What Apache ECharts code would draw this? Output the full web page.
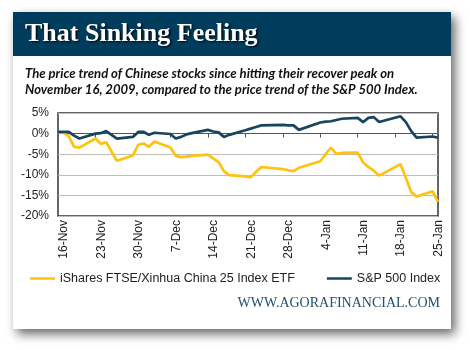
<!DOCTYPE html>
<html>
<head>
<meta charset="utf-8">
<title>That Sinking Feeling</title>
<script src="https://cdn.jsdelivr.net/npm/echarts@6/dist/echarts.min.js"></script>
<style>
  html, body { margin: 0; padding: 0; background: #fff; }
  #chart { width: 470px; height: 350px; }
</style>
</head>
<body>
<div id="chart"></div>
<script>
// trading days, % change since 16-Nov-2009
const dates = [
  '2009-11-16', '2009-11-17', '2009-11-18', '2009-11-19', '2009-11-20',
  '2009-11-23', '2009-11-24', '2009-11-25', '2009-11-27',
  '2009-11-30', '2009-12-01', '2009-12-02', '2009-12-03', '2009-12-04',
  '2009-12-07', '2009-12-08', '2009-12-09', '2009-12-10', '2009-12-11',
  '2009-12-14', '2009-12-15', '2009-12-16', '2009-12-17', '2009-12-18',
  '2009-12-21', '2009-12-22', '2009-12-23', '2009-12-24',
  '2009-12-28', '2009-12-29', '2009-12-30', '2009-12-31',
  '2010-01-04', '2010-01-05', '2010-01-06', '2010-01-07', '2010-01-08',
  '2010-01-11', '2010-01-12', '2010-01-13', '2010-01-14', '2010-01-15',
  '2010-01-19', '2010-01-20', '2010-01-21', '2010-01-22',
  '2010-01-25', '2010-01-26'
]
const chinaEtf = [
  0.3, 0.2, -0.6, -3.2, -3.4,
  -1.2, -2.5, -2.1, -6.6,
  -5.3, -2.7, -2.4, -3.2, -1.9,
  -3.4, -5.4, -5.7, -5.6, -5.4,
  -5.1, -6.0, -6.9, -9.1, -10.1,
  -10.4, -10.6, -9.3, -8.1,
  -8.6, -8.9, -9.1, -8.3,
  -6.7, -5.0, -3.4, -4.9, -4.7,
  -4.6, -7.0, -8.1, -9.0, -10.2,
  -7.4, -10.8, -14.2, -15.3,
  -14.0, -16.6
]
const sp500 = [
  0.4, 0.4, 0.4, -0.5, -1.2,
  0.0, 0.1, 0.6, -1.2,
  -0.8, 0.4, 0.4, -0.3, 0.2,
  -0.1, -1.2, -0.8, -0.2, 0.1,
  0.9, 0.5, 0.3, -0.8, -0.3,
  0.8, 1.2, 1.6, 2.0,
  2.1, 2.0, 2.0, 0.9,
  2.7, 2.9, 3.0, 3.3, 3.6,
  3.8, 2.8, 3.8, 4.0, 2.8,
  4.2, 2.8, 0.6, -1.0,
  -0.7, -1.0
]
const tickLabels = ['16-Nov', '23-Nov', '30-Nov', '7-Dec', '14-Dec', '21-Dec',
  '28-Dec', '4-Jan', '11-Jan', '18-Jan', '25-Jan']
const yTicks = [-20, -15, -10, -5, 0, 5]

const startDay = Date.UTC(2009, 10, 16)
function dayOffset(s) {
  const p = s.split('-')
  return Math.round((Date.UTC(+p[0], +p[1] - 1, +p[2]) - startDay) / 86400000)
}
const days = dates.map(dayOffset)

const chart = echarts.init(document.getElementById('chart'))
const font = '"Liberation Sans", Arial, sans-serif'

const option = {
  animation: false,
  graphic: [
    {
      type: 'rect', z: -10,
      shape: { x: 13, y: 12, width: 438, height: 317 },
      style: { fill: '#fff', shadowBlur: 10, shadowOffsetX: 4, shadowOffsetY: 5, shadowColor: 'rgba(0,0,0,0.6)' }
    },
    {
      type: 'rect', z: -9,
      shape: { x: 13, y: 12, width: 438, height: 44 },
      style: { fill: '#003d5c' }
    },
    {
      type: 'text', z: 10, x: 25, y: 34,
      style: {
        text: 'That Sinking Feeling',
        font: 'bold 26px "Liberation Serif", serif',
        fill: '#fff', verticalAlign: 'middle',
        textShadowColor: 'rgba(0,0,0,0.9)', textShadowOffsetX: 1.5, textShadowOffsetY: 1.5, textShadowBlur: 2
      }
    },
    {
      type: 'text', z: 10, x: 25, y: 66,
      style: {
        text: 'The price trend of Chinese stocks since hitting their recover peak on\nNovember 16, 2009, compared to the price trend of the S&P 500 Index.',
        font: 'italic bold 13.1px Lato, "Liberation Sans", sans-serif',
        lineHeight: 16, fill: '#111', verticalAlign: 'top'
      }
    },
    {
      type: 'text', z: 10, x: 440, y: 303.5,
      style: {
        text: 'WWW.AGORAFINANCIAL.COM',
        font: '14px "Liberation Serif", serif',
        fill: '#24506e', align: 'right', verticalAlign: 'middle'
      }
    }
  ],
  grid: {
    left: 58, right: 32, top: 113, bottom: 134,
    show: true, borderColor: '#333', borderWidth: 1.5
  },
  legend: {
    left: 25, top: 267,
    icon: 'rect', itemWidth: 25, itemHeight: 2.5, itemGap: 32,
    textStyle: { fontSize: 12.5, color: '#222', fontFamily: font },
    data: ['iShares FTSE/Xinhua China 25 Index ETF', 'S&P 500 Index']
  },
  xAxis: [
    {
      type: 'value', min: 0, max: 71, interval: 7,
      axisLine: { show: false, onZero: false },
      axisTick: { show: false },
      splitLine: { show: false },
      axisLabel: {
        rotate: 90, margin: 4, fontSize: 12, color: '#222', fontFamily: font,
        verticalAlign: 'top',
        formatter: v => (v % 7 === 0 ? (tickLabels[v / 7] || '') : '')
      }
    },
    {
      type: 'value', min: 0, max: 71, interval: 7, position: 'bottom',
      axisLine: { onZero: true, lineStyle: { color: '#555', width: 1 } },
      axisTick: { show: true, length: 4, lineStyle: { color: '#555' } },
      axisLabel: { show: false },
      splitLine: { show: false }
    }
  ],
  yAxis: {
    type: 'value', min: yTicks[0], max: yTicks[yTicks.length - 1], interval: 5,
    axisLine: { show: false },
    axisTick: { show: false },
    splitLine: { lineStyle: { color: '#bdbdbd', width: 1 } },
    axisLabel: { formatter: '{value}%', margin: 9, fontSize: 12, color: '#222', fontFamily: font }
  },
  series: [
    {
      name: 'iShares FTSE/Xinhua China 25 Index ETF',
      type: 'line', showSymbol: false,
      data: days.map((d, i) => [d, chinaEtf[i]]),
      itemStyle: { color: '#ffc20e' },
      lineStyle: { color: '#ffc20e', width: 2.7 }
    },
    {
      name: 'S&P 500 Index',
      type: 'line', showSymbol: false,
      data: days.map((d, i) => [d, sp500[i]]),
      itemStyle: { color: '#17455f' },
      lineStyle: { color: '#17455f', width: 2.7 }
    }
  ]
}

chart.setOption(option)
</script>
</body>
</html>
